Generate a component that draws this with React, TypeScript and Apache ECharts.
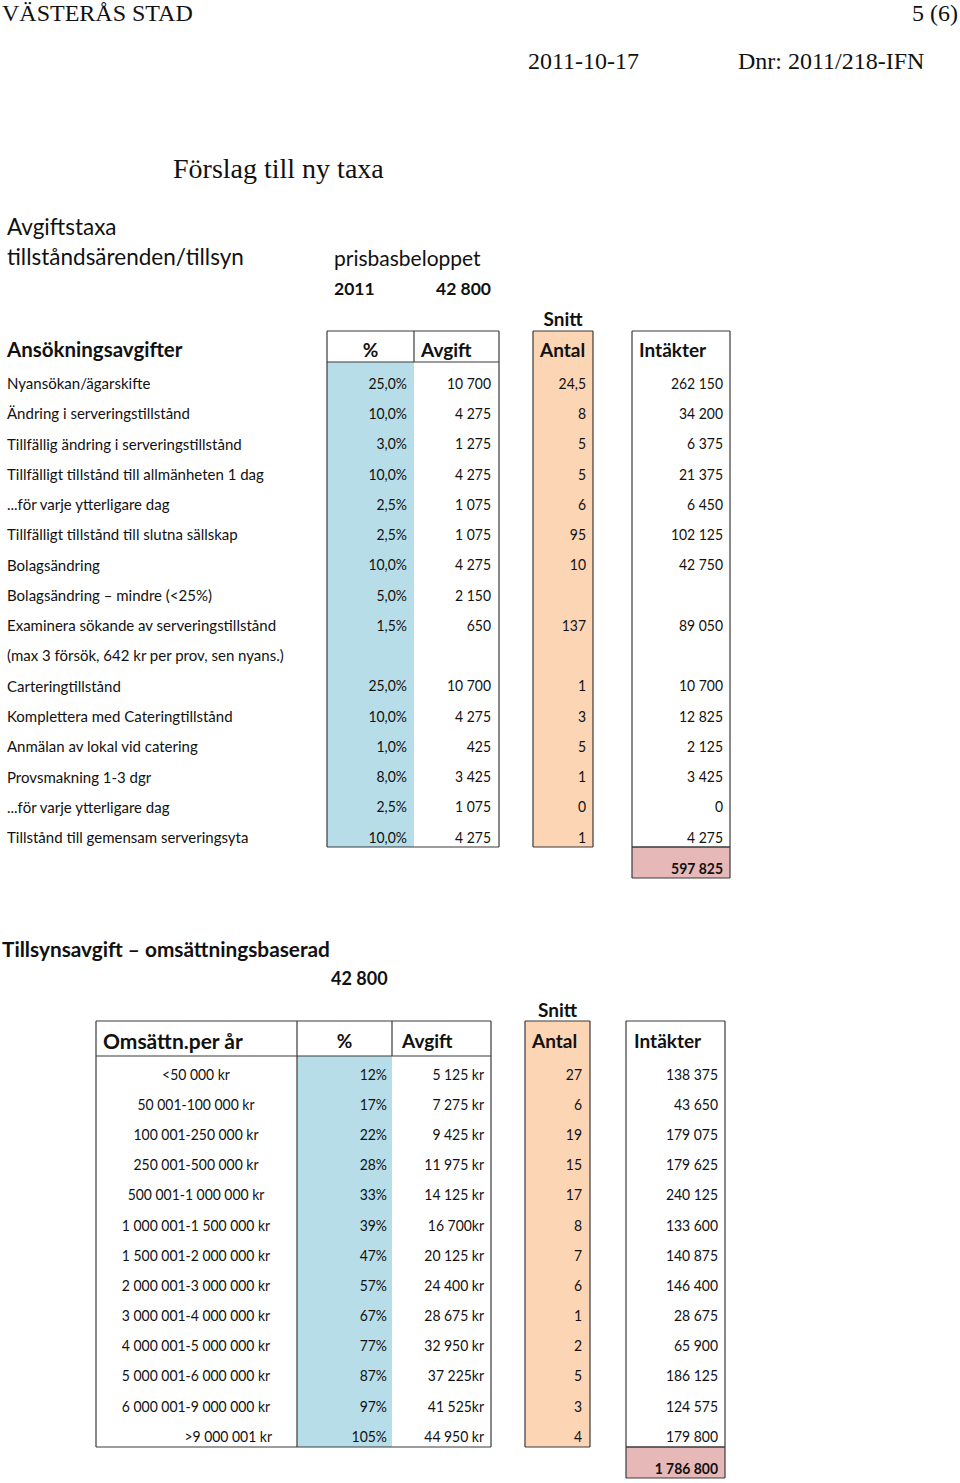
import React, { useEffect, useRef } from "react";
import * as echarts from "echarts";

// ---------- Header texts ----------
const orgName = "VÄSTERÅS STAD";
const pageNo = "5 (6)";
const docDate = "2011-10-17";
const docNo = "Dnr: 2011/218-IFN";
const docTitle = "Förslag till ny taxa";
const introLines = ["Avgiftstaxa", "tillståndsärenden/tillsyn"];
const baseLabel = "prisbasbeloppet";
const baseYear = "2011";
const baseAmount = 42800;

// ---------- Table 1: Ansökningsavgifter ----------
const appTitle = "Ansökningsavgifter";
const appHeaders = ["%", "Avgift", "Antal", "Intäkter"];
const appLabels = [
  "Nyansökan/ägarskifte",
  "Ändring i serveringstillstånd",
  "Tillfällig ändring i serveringstillstånd",
  "Tillfälligt tillstånd till allmänheten 1 dag",
  "...för varje ytterligare dag",
  "Tillfälligt tillstånd till slutna sällskap",
  "Bolagsändring",
  "Bolagsändring – mindre (<25%)",
  "Examinera sökande av serveringstillstånd",
  "(max 3 försök, 642 kr per prov, sen nyans.)",
  "Carteringtillstånd",
  "Komplettera med Cateringtillstånd",
  "Anmälan av lokal vid catering",
  "Provsmakning 1-3 dgr",
  "...för varje ytterligare dag",
  "Tillstånd till gemensam serveringsyta",
];
const appPct: (number | null)[] = [25, 10, 3, 10, 2.5, 2.5, 10, 5, 1.5, null, 25, 10, 1, 8, 2.5, 10];
const appFee: (number | null)[] = [10700, 4275, 1275, 4275, 1075, 1075, 4275, 2150, 650, null, 10700, 4275, 425, 3425, 1075, 4275];
const appCount: (number | null)[] = [24.5, 8, 5, 5, 6, 95, 10, null, 137, null, 1, 3, 5, 1, 0, 1];
const appIncome: (number | null)[] = [262150, 34200, 6375, 21375, 6450, 102125, 42750, null, 89050, null, 10700, 12825, 2125, 3425, 0, 4275];
const appTotal = 597825;

// ---------- Table 2: Tillsynsavgift ----------
const supTitle = "Tillsynsavgift – omsättningsbaserad";
const supHeaders = ["Omsättn.per år", "%", "Avgift", "Antal", "Intäkter"];
const supLabels = [
  "<50 000 kr",
  "50 001-100 000 kr",
  "100 001-250 000 kr",
  "250 001-500 000 kr",
  "500 001-1 000 000 kr",
  "1 000 001-1 500 000 kr",
  "1 500 001-2 000 000 kr",
  "2 000 001-3 000 000 kr",
  "3 000 001-4 000 000 kr",
  "4 000 001-5 000 000 kr",
  "5 000 001-6 000 000 kr",
  "6 000 001-9 000 000 kr",
  ">9 000 001 kr",
];
const supPct = [12, 17, 22, 28, 33, 39, 47, 57, 67, 77, 87, 97, 105];
const supFee = [
  "5 125 kr", "7 275 kr", "9 425 kr", "11 975 kr", "14 125 kr", "16 700kr", "20 125 kr",
  "24 400 kr", "28 675 kr", "32 950 kr", "37 225kr", "41 525kr", "44 950 kr",
];
const supCount = [27, 6, 19, 15, 17, 8, 7, 6, 1, 2, 5, 3, 4];
const supIncome = [138375, 43650, 179075, 179625, 240125, 133600, 140875, 146400, 28675, 65900, 186125, 124575, 179800];
const supTotal = 1786800;
const snittLabel = "Snitt";

// ---------- formatting ----------
const fmtInt = (n: number) => String(Math.round(n)).replace(/\B(?=(\d{3})+(?!\d))/g, " ");
const fmtNum = (n: number | null) =>
  n === null ? "" : Number.isInteger(n) ? fmtInt(n) : String(n).replace(".", ",");
const fmtPct1 = (n: number | null) => (n === null ? "" : n.toFixed(1).replace(".", ",") + "%");

// ---------- style ----------
const SANS = "Lato";
const SERIF = "Liberation Serif";
const BLUE = "#b7dee8";
const PEACH = "#fcd5b4";
const PINK = "#e6b8b7";
const LINE = "#3a3a3a";
const INK = "#111";
const BODY = 15;
const NUM_SX = 0.93; // digits are narrower in the original typeface

function text(x: number, y: number, t: string, o: any = {}) {
  return {
    type: "text",
    x,
    y,
    scaleX: o.sx ?? 1,
    silent: true,
    style: {
      text: t,
      fill: INK,
      fontFamily: o.family ?? SANS,
      fontSize: o.size ?? BODY,
      fontWeight: o.bold ? "bold" : "normal",
      align: o.align ?? "left",
      verticalAlign: "middle",
    },
  };
}
function rect(x: number, y: number, w: number, h: number, fill: string) {
  return { type: "rect", silent: true, shape: { x, y, width: w, height: h }, style: { fill } };
}
function line(x1: number, y1: number, x2: number, y2: number) {
  return {
    type: "line",
    silent: true,
    shape: { x1, y1, x2, y2 },
    style: { stroke: LINE, lineWidth: 1.2 },
  };
}
function box(x1: number, y1: number, x2: number, y2: number) {
  return [line(x1, y1, x2, y1), line(x2, y1, x2, y2), line(x2, y2, x1, y2), line(x1, y2, x1, y1)];
}

function buildGraphic() {
  const els: any[] = [];
  // page header
  els.push(text(2, 13, orgName, { family: SERIF, size: 24 }));
  els.push(text(958, 13, pageNo, { family: SERIF, size: 24, align: "right" }));
  els.push(text(528, 61, docDate, { family: SERIF, size: 24 }));
  els.push(text(738, 61, docNo, { family: SERIF, size: 24 }));
  els.push(text(173, 168, docTitle, { family: SERIF, size: 28 }));
  els.push(text(7, 226, introLines[0], { size: 22.5 }));
  els.push(text(7, 256, introLines[1], { size: 22.5 }));
  els.push(text(334, 257, baseLabel, { size: 21 }));
  els.push(text(334, 288, baseYear, { size: 17.5, bold: true }));
  els.push(text(491, 288, fmtInt(baseAmount), { size: 17.5, bold: true, align: "right" }));

  // ---- table 1 ----
  const t1 = {
    top: 331, head: 362, bottom: 847, total: 878,
    b1: 327, div: 414, b2: 499, a1: 533, a2: 593, i1: 632, i2: 730,
    row0: 383, step: 30.27,
  };
  els.push(rect(t1.b1, t1.head, t1.div - t1.b1, t1.bottom - t1.head, BLUE));
  els.push(rect(t1.a1, t1.top, t1.a2 - t1.a1, t1.bottom - t1.top, PEACH));
  els.push(rect(t1.i1, t1.bottom, t1.i2 - t1.i1, t1.total - t1.bottom, PINK));
  els.push(...box(t1.b1, t1.top, t1.b2, t1.bottom));
  els.push(line(t1.b1, t1.head, t1.b2, t1.head));
  els.push(line(t1.div, t1.top, t1.div, t1.head));
  els.push(...box(t1.a1, t1.top, t1.a2, t1.bottom));
  els.push(...box(t1.i1, t1.top, t1.i2, t1.bottom));
  els.push(...box(t1.i1, t1.bottom, t1.i2, t1.total));

  const h1y = 349;
  els.push(text(7, h1y, appTitle, { size: 20.5, bold: true }));
  els.push(text((t1.b1 + t1.div) / 2, h1y, appHeaders[0], { size: 19, bold: true, align: "center" }));
  els.push(text(t1.div + 7, h1y, appHeaders[1], { size: 19, bold: true }));
  els.push(text(t1.a1 + 7, h1y, appHeaders[2], { size: 19, bold: true }));
  els.push(text(t1.i1 + 7, h1y, appHeaders[3], { size: 19, bold: true }));
  els.push(text((t1.a1 + t1.a2) / 2, 318, snittLabel, { size: 19, bold: true, align: "center" }));

  const num = { align: "right", sx: NUM_SX };
  appLabels.forEach((lab, i) => {
    const y = t1.row0 + i * t1.step;
    els.push(text(7, y, lab));
    els.push(text(407, y, fmtPct1(appPct[i]), num));
    els.push(text(491, y, fmtNum(appFee[i]), num));
    els.push(text(586, y, fmtNum(appCount[i]), num));
    els.push(text(723, y, fmtNum(appIncome[i]), num));
  });
  els.push(text(723, 868, fmtInt(appTotal), { bold: true, align: "right", sx: NUM_SX }));

  // ---- table 2 ----
  els.push(text(2, 948, supTitle, { size: 20.8, bold: true }));
  els.push(text(331, 978, fmtInt(baseAmount), { size: 18, bold: true }));
  const t2 = {
    top: 1021, head: 1056, bottom: 1447, total: 1478,
    b1: 96, d1: 297, d2: 392, b2: 491, a1: 525, a2: 590, i1: 626, i2: 725,
    row0: 1074, step: 30.17,
  };
  els.push(rect(t2.d1, t2.head, t2.d2 - t2.d1, t2.bottom - t2.head, BLUE));
  els.push(rect(t2.a1, t2.top, t2.a2 - t2.a1, t2.bottom - t2.top, PEACH));
  els.push(rect(t2.i1, t2.bottom, t2.i2 - t2.i1, t2.total - t2.bottom, PINK));
  els.push(...box(t2.b1, t2.top, t2.b2, t2.bottom));
  els.push(line(t2.b1, t2.head, t2.b2, t2.head));
  els.push(line(t2.d1, t2.top, t2.d1, t2.bottom));
  els.push(line(t2.d2, t2.top, t2.d2, t2.head));
  els.push(...box(t2.a1, t2.top, t2.a2, t2.bottom));
  els.push(...box(t2.i1, t2.top, t2.i2, t2.bottom));
  els.push(...box(t2.i1, t2.bottom, t2.i2, t2.total));

  const h2y = 1040;
  els.push(text(t2.b1 + 7, h2y, supHeaders[0], { size: 21, bold: true }));
  els.push(text((t2.d1 + t2.d2) / 2, h2y, supHeaders[1], { size: 19, bold: true, align: "center" }));
  els.push(text(t2.d2 + 10, h2y, supHeaders[2], { size: 19, bold: true }));
  els.push(text(t2.a1 + 7, h2y, supHeaders[3], { size: 19, bold: true }));
  els.push(text(t2.i1 + 8, h2y, supHeaders[4], { size: 19, bold: true }));
  els.push(text((t2.a1 + t2.a2) / 2, 1009, snittLabel, { size: 19, bold: true, align: "center" }));

  supLabels.forEach((lab, i) => {
    const y = t2.row0 + i * t2.step;
    const last = i === supLabels.length - 1;
    els.push(text(last ? 272 : 196, y, lab, { align: last ? "right" : "center", sx: NUM_SX }));
    els.push(text(387, y, supPct[i] + "%", num));
    els.push(text(484, y, supFee[i], num));
    els.push(text(582, y, fmtNum(supCount[i]), num));
    els.push(text(718, y, fmtInt(supIncome[i]), num));
  });
  els.push(text(718, 1468, fmtInt(supTotal), { bold: true, align: "right", sx: NUM_SX }));

  return els;
}

export default function App() {
  const ref = useRef<HTMLDivElement>(null);
  useEffect(() => {
    if (!ref.current) return;
    const chart = echarts.init(ref.current, undefined, { renderer: "svg" });
    chart.setOption({
      animation: false,
      backgroundColor: "#ffffff",
      graphic: { elements: buildGraphic() },
    });
    return () => chart.dispose();
  }, []);
  return (
    <div
      ref={ref}
      style={{ position: "absolute", left: 0, top: 0, width: 960, height: 1483, background: "#fff" }}
    />
  );
}
